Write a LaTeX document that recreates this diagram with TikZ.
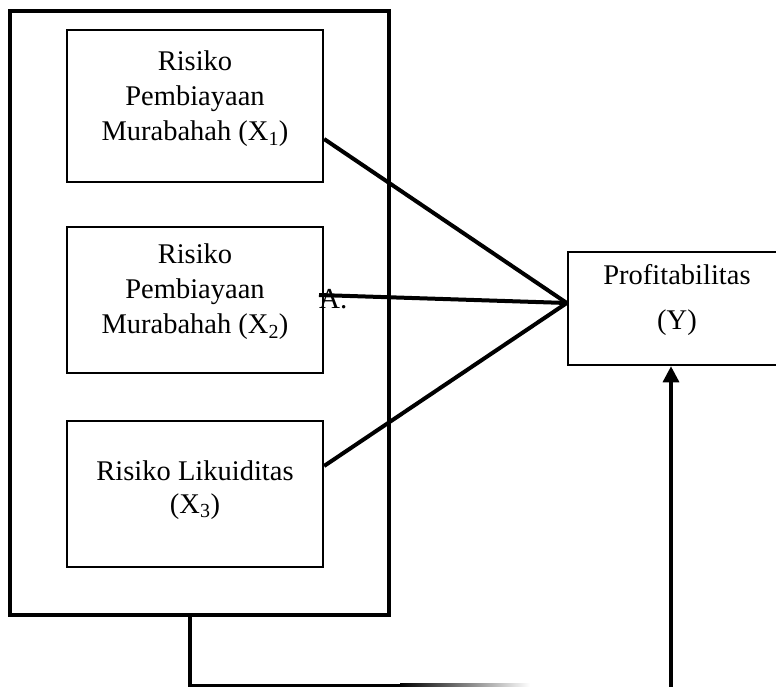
\documentclass[tikz,border=0pt]{standalone}
\usepackage{fontspec}
\setmainfont{Liberation Serif}
\usetikzlibrary{arrows.meta}
\begin{document}
\begin{tikzpicture}[x=1pt,y=-1pt,
  box/.style={draw, line width=2.2pt, inner sep=0pt, minimum width=256pt},
  txt/.style={font=\fontsize{28.5}{35}\selectfont, align=center, inner sep=0pt},
  conn/.style={line width=4pt},
  bottom/.style={line width=4pt}]
\useasboundingbox (0,0) rectangle (776,687);
\clip (0,0) rectangle (776,687);
% outer frame
\node[draw, line width=4.2pt, inner sep=0pt, minimum width=379pt, minimum height=604pt] (outer) at (199.5,313) {};
% inner boxes
\node[box, minimum height=152pt] (x1) at (195,106) {};
\node[box, minimum height=146pt] (x2) at (195,300) {};
\node[box, minimum height=146pt] (x3) at (195,494) {};
\node[txt] (x1t) at (195,99) {Risiko\\Pembiayaan\\Murabahah (X\textsubscript{1})};
\node[txt] (x2t) at (195,292) {Risiko\\Pembiayaan\\Murabahah (X\textsubscript{2})};
\node[txt, font=\fontsize{28.5}{33}\selectfont] (x3t) at (195,490) {Risiko Likuiditas\\(X\textsubscript{3})};
% dependent box
\node[draw, line width=2.5pt, inner sep=0pt, minimum width=214pt, minimum height=113pt] (y) at (675,308.5) {};
\node[txt, font=\fontsize{28.5}{45}\selectfont] (yt) at (677,300) {Profitabilitas\\(Y)};
% label A.
\node[inner sep=0pt, anchor=base west, font=\fontsize{29}{29}\selectfont] (a) at (319,308) {A.};
% convergence
\coordinate (conv) at ([yshift=5.5pt]y.west);
\coordinate (astart) at ([yshift=13pt]a.base west);
\draw[conn] ([yshift=-33pt]x1.east) -- (conv);
\draw[conn] (astart) -- (conv);
\draw[conn] ([yshift=28pt]x3.east) -- (conv);
% bottom connector
\coordinate (bl) at (190,685);
\coordinate (fade) at (402,685);
\coordinate (ar) at (671,690);
\draw[bottom] (outer.south -| bl) -- (bl);
\draw[line width=3pt] ([xshift=-2pt]bl) -- (fade);
\shade[left color=black, right color=white] (400,683.5) rectangle (530,686.5);
\draw[line width=3.2pt, -{Triangle[length=16pt,width=16pt]}] (ar) -- (y.south -| ar);
\end{tikzpicture}
\end{document}
